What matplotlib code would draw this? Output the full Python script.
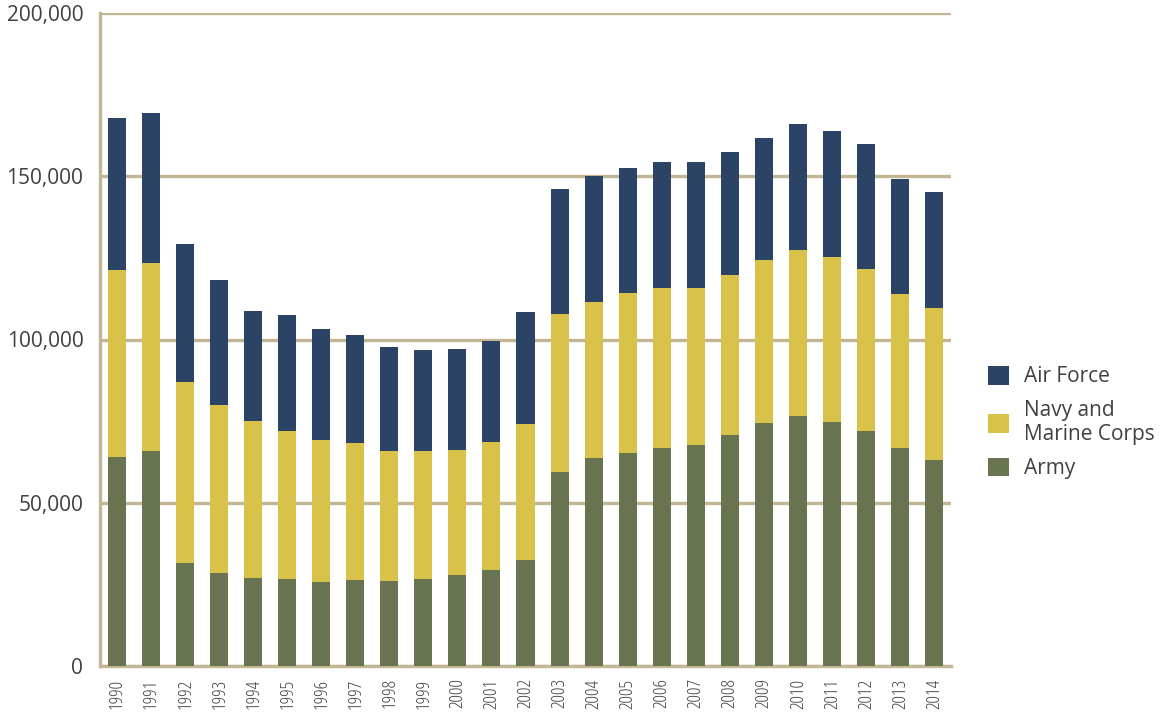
import matplotlib
matplotlib.use("Agg")
import matplotlib.pyplot as plt
import numpy as np

# values in thousands
years = [str(y) for y in range(1990, 2015)]
army = [63.9, 66.0, 31.4, 28.4, 26.9, 26.5, 25.6, 26.2, 25.9, 26.5, 27.8, 29.3, 32.4,
        59.3, 63.6, 65.1, 66.9, 67.6, 70.9, 74.3, 76.5, 74.6, 71.9, 66.7, 63.0]
navy = [57.3, 57.3, 55.5, 51.4, 48.0, 45.4, 43.5, 42.0, 40.1, 39.2, 38.5, 39.2, 41.6,
        48.4, 47.8, 49.0, 49.0, 48.3, 49.0, 49.9, 50.8, 50.8, 49.6, 47.1, 46.5]
air = [46.5, 46.2, 42.2, 38.3, 33.7, 35.5, 34.0, 33.1, 31.6, 31.0, 30.7, 30.9, 34.3,
       38.5, 38.8, 38.5, 38.6, 38.6, 37.4, 37.4, 38.6, 38.6, 38.5, 35.5, 35.8]
yticks = [0, 50000, 100000, 150000, 200000]

col_army = "#687350"
col_navy = "#d8c24a"
col_air = "#2b4466"
grid_col = "#c2b695"
txt_col = "#404040"

plt.rcParams['font.family'] = ['Open Sans', 'DejaVu Sans']

army = np.array(army) * 1000
navy = np.array(navy) * 1000
air = np.array(air) * 1000
x = np.arange(len(years))

fig = plt.figure(figsize=(11.63, 7.15), dpi=100)
ax = fig.add_axes([100/1163, 49/715, 851/1163, 653/715])

w = 0.53
b1 = ax.bar(x, army, w, color=col_army, zorder=3)
b2 = ax.bar(x, navy, w, bottom=army, color=col_navy, zorder=3)
b3 = ax.bar(x, air, w, bottom=army + navy, color=col_air, zorder=3)

ax.set_xlim(-0.5, len(years) - 0.5)
ax.set_ylim(0, 200000)
ax.set_yticks(yticks)
ax.set_yticklabels(["{:,}".format(v) for v in yticks])
ax.set_xticks(x)
ax.set_xticklabels(years, rotation=90, fontsize=13.5, color=txt_col,
                   fontstretch='condensed')

ax.yaxis.grid(True, color=grid_col, linewidth=2.4, zorder=1)
for s in ["top", "right"]:
    ax.spines[s].set_visible(False)
for s in ["left", "bottom"]:
    ax.spines[s].set_color(grid_col)
    ax.spines[s].set_linewidth(2.4)
ax.tick_params(axis="both", length=0)
ax.tick_params(axis="y", labelsize=15, labelcolor=txt_col, pad=12)
ax.tick_params(axis="x", pad=9)

fig.legend([b3, b2, b1], ["Air Force", "Navy and\nMarine Corps", "Army"],
           loc="upper left", bbox_to_anchor=(988/1163, 1 - 366/715),
           frameon=False, fontsize=15, handlelength=1.0, handleheight=1.0,
           handletextpad=0.75, labelspacing=0.6, borderpad=0, borderaxespad=0,
           labelcolor=txt_col)

fig.savefig("out.png", dpi=100)
